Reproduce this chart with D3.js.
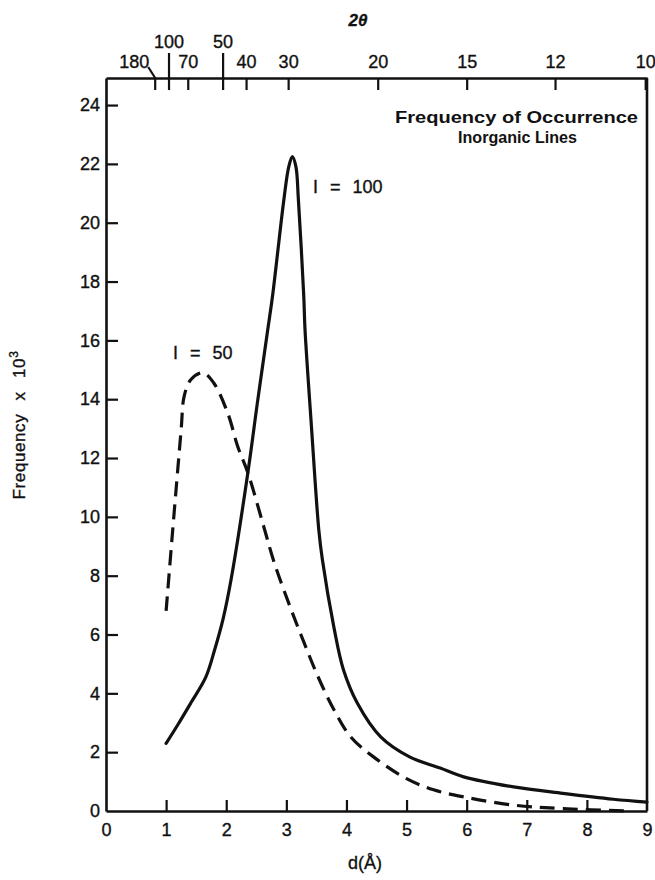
<!DOCTYPE html>
<html>
<head>
<meta charset="utf-8">
<script src="https://cdn.jsdelivr.net/npm/d3@7/dist/d3.min.js"></script>
<style>
  html, body { margin: 0; padding: 0; background: #fff; }
  svg { display: block; }
  text { font-family: "Liberation Sans", Arial, Helvetica, sans-serif; fill: #111; stroke: #111; stroke-width: 0.35px; }
</style>
</head>
<body>
<svg id="chart" width="655" height="880"></svg>
<script>
// Interplanar spacing d (Å) and frequency of occurrence (×10³), strongest lines (I = 100)
const dI100 = [1.0, 1.2, 1.41, 1.66, 1.81, 1.95, 2.08, 2.36, 2.52, 2.69, 2.77, 2.96, 3.04, 3.1, 3.16, 3.2, 3.29, 3.31, 3.42, 3.54, 3.6, 3.79, 3.95, 4.18, 4.57, 5.05, 5.56, 5.95, 6.78, 7.6, 8.44, 9.0];
const freqI100 = [2.3, 2.95, 3.67, 4.55, 5.5, 6.55, 7.86, 11.5, 13.9, 16.35, 17.5, 20.8, 21.9, 22.25, 21.9, 20.8, 17.5, 16.4, 13.0, 9.56, 8.54, 6.26, 4.8, 3.67, 2.52, 1.84, 1.46, 1.16, 0.82, 0.6, 0.4, 0.3];

// Half-intensity lines (I = 50)
const dI50 = [1.0, 1.11, 1.25, 1.3, 1.41, 1.61, 1.79, 2.03, 2.19, 2.36, 2.62, 2.79, 3.07, 3.29, 3.52, 3.79, 4.07, 4.45, 5.0, 5.45, 5.95, 6.78, 7.6, 8.7];
const freqI50 = [6.8, 9.56, 12.96, 14.1, 14.66, 14.9, 14.56, 13.5, 12.4, 11.5, 9.7, 8.5, 6.9, 5.75, 4.6, 3.45, 2.52, 1.84, 1.1, 0.72, 0.48, 0.2, 0.08, 0.0];

// Axis ticks
const dTicks = [0, 1, 2, 3, 4, 5, 6, 7, 8, 9];
const freqTicks = [0, 2, 4, 6, 8, 10, 12, 14, 16, 18, 20, 22, 24];

// 2θ scale along the top, placed at the corresponding d spacing (Å)
const twoThetaLabels = ["180", "100", "70", "50", "40", "30", "20", "15", "12", "10"];
const twoThetaAtD = [0.81, 1.04, 1.36, 1.94, 2.33, 3.03, 4.52, 6.0, 7.47, 8.97];

const svg = d3.select("#chart");
const frame = { left: 106, right: 647, top: 78, bottom: 811 };

const x = d3.scaleLinear().domain([0, 9]).range([frame.left, frame.right]);
const y = d3.scaleLinear().domain([0, 24.92]).range([frame.bottom, frame.top]);

const ink = "#111";

// Bottom axis: d(Å)
const gx = svg.append("g").attr("transform", `translate(0,${frame.bottom})`)
  .call(d3.axisBottom(x).tickValues(dTicks).tickSize(-11).tickSizeOuter(0).tickPadding(12).tickFormat(d3.format("d")));
gx.selectAll(".tick").filter(d => d === 0 || d === 9).select("line").remove();

// Left axis: frequency
const gy = svg.append("g").attr("transform", `translate(${frame.left},0)`)
  .call(d3.axisLeft(y).tickValues(freqTicks).tickSize(-12).tickSizeOuter(0).tickPadding(6).tickFormat(d3.format("d")));
gy.selectAll(".tick").filter(d => d === 0).select("line").remove();

// Top axis: 2θ
const raised = new Set(["100", "50"]);
const gt = svg.append("g").attr("transform", `translate(0,${frame.top})`)
  .call(d3.axisTop(x).tickValues(twoThetaAtD).tickSize(-12).tickSizeOuter(0).tickPadding(10)
    .tickFormat((d, i) => twoThetaLabels[i]));
gt.selectAll(".tick").each(function(d, i) {
  const t = d3.select(this);
  const lab = twoThetaLabels[i];
  if (raised.has(lab)) {
    t.select("line").attr("y1", -25);
    t.select("text").attr("y", -30);
  }
  if (lab === "180") {
    t.select("text").attr("x", -21);
    t.append("line").attr("class", "leader")
      .attr("x1", -7).attr("y1", -11).attr("x2", 0).attr("y2", 0);
  }
});

[gx, gy, gt].forEach(g => {
  g.selectAll("path.domain").attr("stroke", ink).attr("stroke-width", 2.6);
  g.selectAll("line").attr("stroke", ink).attr("stroke-width", 2.2);
  g.selectAll("text").attr("fill", ink).style("font-size", "18px")
    .style("font-family", '"Liberation Sans", Arial, Helvetica, sans-serif');
});

// Right border
svg.append("line")
  .attr("x1", x(9)).attr("x2", x(9)).attr("y1", frame.top).attr("y2", frame.bottom)
  .attr("stroke", ink).attr("stroke-width", 2.6);

// Curves
const line = d3.line()
  .x(d => x(d[0])).y(d => y(d[1]))
  .curve(d3.curveCatmullRom.alpha(0.5));

svg.append("path")
  .datum(d3.zip(dI100, freqI100))
  .attr("d", line)
  .attr("fill", "none").attr("stroke", ink).attr("stroke-width", 3.2)
  .attr("stroke-linejoin", "round").attr("stroke-linecap", "round");

svg.append("path")
  .datum(d3.zip(dI50, freqI50))
  .attr("d", line)
  .attr("fill", "none").attr("stroke", ink).attr("stroke-width", 3.2)
  .attr("stroke-dasharray", "15,8");

// Curve labels
svg.append("text").attr("x", 313).attr("y", 193)
  .style("font-size", "18px").style("word-spacing", "7px").text("I = 100");
svg.append("text").attr("x", 173).attr("y", 359)
  .style("font-size", "18px").style("word-spacing", "7px").text("I = 50");

// Legend title
svg.append("text").attr("x", 395).attr("y", 123)
  .attr("textLength", 243).attr("lengthAdjust", "spacingAndGlyphs")
  .style("font-size", "17px").style("font-weight", "bold").style("stroke-width", "0px").text("Frequency of Occurrence");
svg.append("text").attr("x", 458).attr("y", 143)
  .attr("textLength", 119).attr("lengthAdjust", "spacingAndGlyphs")
  .style("font-size", "17px").style("font-weight", "bold").style("stroke-width", "0px").text("Inorganic Lines");

// Axis titles
svg.append("text").attr("x", 358).attr("y", 26).attr("text-anchor", "middle")
  .style("font-size", "17px").style("font-weight", "bold").style("font-style", "italic").text("2θ");

svg.append("text").attr("x", 365).attr("y", 869).attr("text-anchor", "middle")
  .style("font-size", "18px").text("d(Å)");

const yt = svg.append("text")
  .attr("transform", "translate(25,425) rotate(-90)")
  .attr("text-anchor", "middle")
  .style("font-size", "17px").style("word-spacing", "8px").style("letter-spacing", "0.6px");
yt.append("tspan").text("Frequency x 10");
yt.append("tspan").attr("dy", -7).style("font-size", "12px").text("3");
</script>
</body>
</html>
